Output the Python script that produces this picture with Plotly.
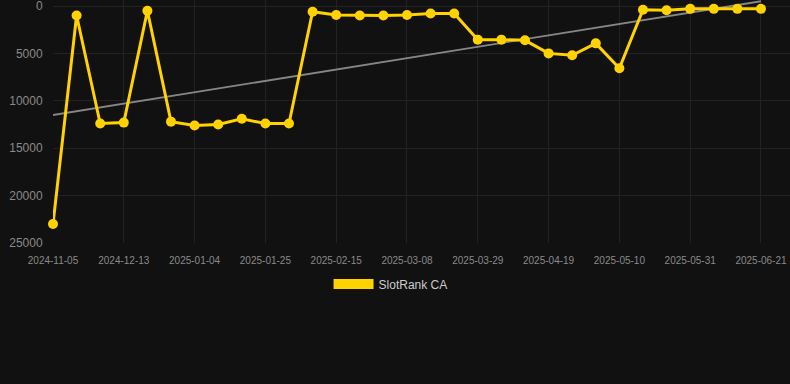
import plotly.graph_objects as go

dates = [
    "2024-11-05", "2024-11-18", "2024-11-30", "2024-12-13", "2024-12-20", "2024-12-27",
    "2025-01-04", "2025-01-11", "2025-01-18", "2025-01-25", "2025-02-01", "2025-02-08",
    "2025-02-15", "2025-02-22", "2025-03-01", "2025-03-08", "2025-03-15", "2025-03-22",
    "2025-03-29", "2025-04-05", "2025-04-12", "2025-04-19", "2025-04-26", "2025-05-03",
    "2025-05-10", "2025-05-17", "2025-05-24", "2025-05-31", "2025-06-07", "2025-06-14",
    "2025-06-21",
]
rank = [
    23000, 1000, 12400, 12300, 500, 12200,
    12600, 12500, 11900, 12400, 12400, 600,
    950, 1000, 1000, 950, 800, 800,
    3550, 3550, 3620, 5000, 5200, 3940,
    6575, 400, 450, 300, 300, 300,
    300,
]
trend_dates = [dates[0], dates[-1]]
trend_vals = [11500, -500]
tick_labels = dates[::3]
y_ticks = [0, 5000, 10000, 15000, 20000, 25000]

GOLD = "#FFD200"

fig = go.Figure()
fig.add_trace(go.Scatter(
    x=trend_dates, y=trend_vals, mode="lines",
    line=dict(color="#868686", width=1.8), showlegend=False, hoverinfo="skip",
    cliponaxis=False,
))
fig.add_trace(go.Scatter(
    x=dates, y=rank, mode="lines+markers",
    line=dict(color=GOLD, width=3), marker=dict(color=GOLD, size=10),
    showlegend=False, name="SlotRank CA", cliponaxis=False,
))
fig.add_trace(go.Scatter(
    x=[None], y=[None], mode="lines", name="SlotRank CA",
    line=dict(color=GOLD, width=12), showlegend=True,
))

fig.update_layout(
    width=790, height=384,
    margin=dict(l=53, r=0, t=0, b=141),
    paper_bgcolor="#111111", plot_bgcolor="#111111",
    font=dict(family="Liberation Sans, Arial, sans-serif", color="#8a8a8a"),
    showlegend=True,
    legend=dict(
        orientation="h", x=0.458, xanchor="center", y=-0.169, yanchor="middle",
        font=dict(size=12, color="#cccccc"), itemwidth=40, bgcolor="rgba(0,0,0,0)",
    ),
    xaxis=dict(
        type="category", categoryorder="array", categoryarray=dates,
        range=[0, 31.23], tickmode="array", tickvals=tick_labels, ticktext=tick_labels,
        tickfont=dict(size=10, color="#8a8a8a"), showgrid=True,
        gridcolor="#222222", gridwidth=1, zeroline=False, showline=False,
        ticks="outside", ticklen=8, tickcolor="rgba(0,0,0,0)",
        ticklabeloverflow="allow",
    ),
    yaxis=dict(
        range=[25000, -633], tickmode="array", tickvals=y_ticks,
        ticktext=[str(v) for v in y_ticks],
        tickfont=dict(size=12, color="#8a8a8a"), showgrid=True,
        gridcolor="#222222", gridwidth=1, zeroline=False, showline=False,
        ticks="outside", ticklen=7, tickcolor="rgba(0,0,0,0)",
        ticklabeloverflow="allow",
    ),
)

fig.write_html("out.html", config={"displayModeBar": False, "staticPlot": True})

with open("out.html", "r", encoding="utf-8") as f:
    html = f.read()
html = html.replace(
    "<head>",
    "<head><style>html,body{margin:0;padding:0;background:#111111;overflow:hidden;}</style>",
    1,
)
with open("out.html", "w", encoding="utf-8") as f:
    f.write(html)
